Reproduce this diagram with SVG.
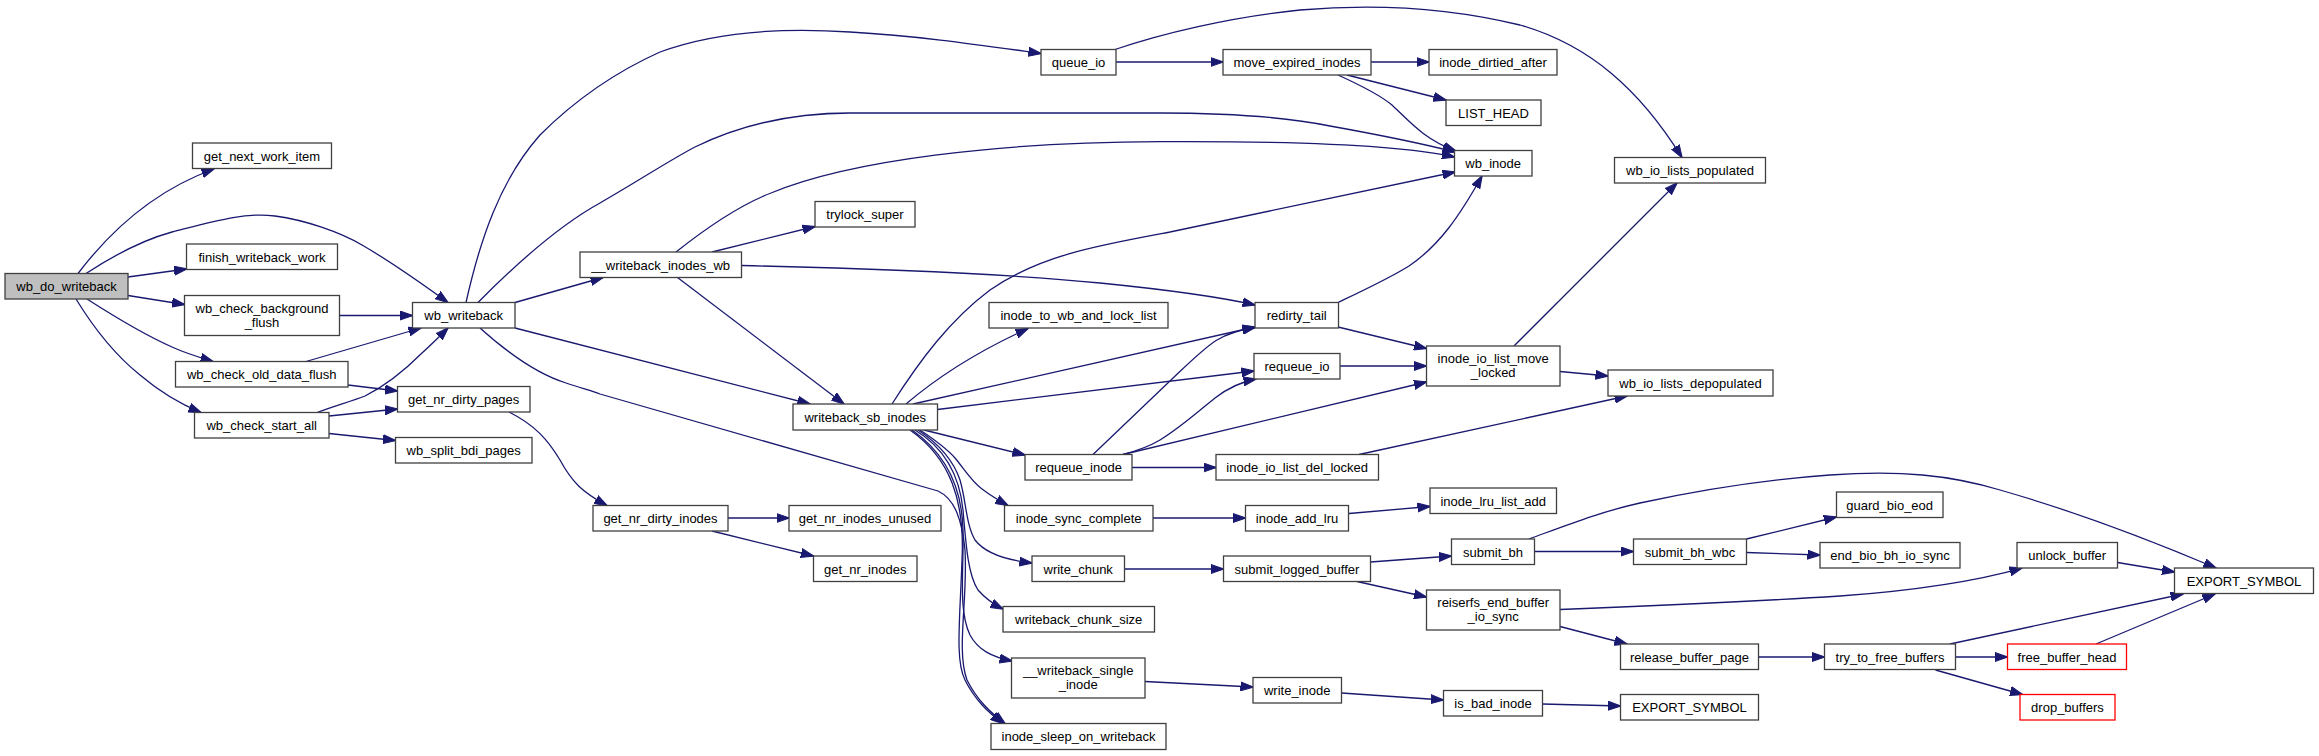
<svg xmlns="http://www.w3.org/2000/svg" width="2319" height="756" viewBox="0 0 2319 756">
<style>
.node rect{fill:#ffffff;stroke:#404040;stroke-width:1.3}
.root rect{fill:#bfbfbf}
.trunc rect{stroke:#ff0000}
text{font-family:"Liberation Sans",Arial,Helvetica,sans-serif;font-size:13px;text-anchor:middle;fill:#000000}
.edge path{fill:none;stroke:#191970;stroke-width:1.3;marker-end:url(#arr)}
</style>
<defs>
<marker id="arr" markerUnits="userSpaceOnUse" markerWidth="13" markerHeight="10" viewBox="0 0 13 10" refX="12.5" refY="5" orient="auto">
<path d="M0,0.5 L13,5 L0,9.5 z" fill="#191970" stroke="#191970" stroke-width="1"/>
</marker>
</defs>
<rect x="0" y="0" width="2319" height="756" fill="#ffffff"/>
<g id="edges" class="edge">
<path d="M78,273.5 C105,238 150,192 214,169"/>
<path d="M86,273.5 C125,248 150,238 172,232 C215,221 245,212 275,216 C305,220 340,232 362,245 C395,264 425,286 448,302.5"/>
<path d="M128,277 L186.5,269"/>
<path d="M128,295.5 L184.5,304.5"/>
<path d="M87,299 C115,317 145,335 172,347 C185,353 198,357 213,361.5"/>
<path d="M76,299 C95,330 115,355 140,375 C160,392 178,403 201,412.5"/>
<path d="M339.5,315.5 L412.5,315.5"/>
<path d="M306,361.5 L421,328"/>
<path d="M348,385 L397.5,391"/>
<path d="M317,412.5 C335,406 352,401 365,396 C385,386 405,370 422,353 C432,344 440,336 448,328"/>
<path d="M329,416 L397.5,409"/>
<path d="M329,433.5 L395.5,440.5"/>
<path d="M509,412 C535,425 548,440 560,460 C572,482 582,492 607,505.5"/>
<path d="M728,518 L789,518"/>
<path d="M712,531 L813.5,556"/>
<path d="M466,302.5 C480,240 500,180 540,135 C580,95 620,70 660,52 C720,30 790,28 850,32 C920,36 980,45 1041,53.5"/>
<path d="M478,302.5 C520,260 560,225 600,203 C640,180 670,160 695,147 C740,125 790,113 850,113 L1160,113 C1230,113 1290,118 1330,126 C1380,135 1420,143 1455,152"/>
<path d="M515,302.5 L603,277.5"/>
<path d="M515,328 L810,404"/>
<path d="M480,328 C510,355 540,375 566,383 C580,388 590,390 600,394 L938,491 C955,499 962,520 965,550 C968,600 956,650 967,680 C977,700 990,712 1005,723.5"/>
<path d="M712,252 L815,226.5"/>
<path d="M676,252 C710,225 740,205 771,193 C850,160 1000,142 1160,141.7 C1300,141 1400,145 1454.5,157"/>
<path d="M741.5,265.5 C850,268 1000,273 1100,283 C1170,290 1220,297 1255,305"/>
<path d="M677.5,277.5 L844,404"/>
<path d="M1116,62 L1223,62"/>
<path d="M1115,49.5 C1160,34 1230,17 1300,10 C1380,3 1450,8 1520,25 C1590,45 1640,90 1682,157.5"/>
<path d="M1371,62 L1429,62"/>
<path d="M1347,75 L1446,100"/>
<path d="M1338,75 C1360,85 1380,95 1392,105 C1410,122 1425,140 1456,151"/>
<path d="M892,404 C920,360 950,320 990,290 C1040,255 1100,245 1170,232 L1455,172"/>
<path d="M906,404 C940,375 985,348 1028,328.5"/>
<path d="M913,404 L1255,327"/>
<path d="M937.5,409.5 L1254,371"/>
<path d="M924,430 L1025,455"/>
<path d="M920,430 C935,440 948,450 955,458 C965,470 972,482 982,489 C990,495 998,500 1008,505.5"/>
<path d="M918,430 C945,448 955,465 960,480 C966,500 966,525 975,540 C985,553 1005,560 1032,563"/>
<path d="M915,430 C948,450 960,480 963,510 C966,545 968,575 978,590 C985,598 993,604 1003,609"/>
<path d="M912,430 C948,455 962,490 963,530 C964,570 958,610 970,635 C978,650 992,657 1012,661"/>
<path d="M910,430 C950,458 965,500 962,560 C960,620 955,660 965,680 C975,700 988,712 1003,723.5"/>
<path d="M1093,454.5 L1171,380 C1190,362 1205,347 1217,340 C1228,333 1240,330 1255,327.5"/>
<path d="M1123,454.5 C1140,450 1150,446 1160,440 C1180,428 1200,410 1215,398 C1228,388 1240,382 1256,379"/>
<path d="M1123,454.5 L1426.5,382"/>
<path d="M1132,467.5 L1216,467.5"/>
<path d="M1338,302.5 C1360,292 1390,278 1409,266 C1440,245 1460,215 1482,176"/>
<path d="M1338,327 L1426.5,348.5"/>
<path d="M1340,366 L1426.5,366"/>
<path d="M1514,346 L1677,183"/>
<path d="M1560,371.5 L1608,376"/>
<path d="M1359,454.5 L1627,396"/>
<path d="M1153,518 L1245.5,518"/>
<path d="M1349,513.5 L1430,506.5"/>
<path d="M1124.5,569 L1223.5,569"/>
<path d="M1370.5,562 L1451.5,556"/>
<path d="M1357,581.5 L1426.5,597"/>
<path d="M1534.5,551.5 L1633.5,551.5"/>
<path d="M1529,539 C1570,524 1600,512 1640,503 C1700,490 1760,480 1830,475 C1900,470 1950,475 2000,490 C2070,510 2150,540 2216,568"/>
<path d="M1746.5,539 L1836.5,517"/>
<path d="M1746.5,552.5 L1820,555"/>
<path d="M1560,609.5 C1650,606 1760,601 1840,596 C1920,590 1980,580 2022,568"/>
<path d="M1560,626.5 L1627,644"/>
<path d="M2117.5,562.5 L2174.5,572"/>
<path d="M1758.5,657 L1824.5,657"/>
<path d="M1950,644 L2183,594"/>
<path d="M1955.5,657 L2007.5,657"/>
<path d="M1935.5,670 L2022.5,694.5"/>
<path d="M2096,644 L2215,594"/>
<path d="M1145,681.5 L1253,687"/>
<path d="M1341.5,693 L1443.5,700"/>
<path d="M1542.5,704 L1620.5,706"/>
</g>
<g id="wb_do_writeback" class="node root"><rect x="5" y="273.5" width="123" height="25.5"/><text x="66.5" y="291">wb_do_writeback</text></g>
<g id="get_next_work_item" class="node"><rect x="192.5" y="143" width="139" height="25.5"/><text x="262" y="160.5">get_next_work_item</text></g>
<g id="finish_writeback_work" class="node"><rect x="186.5" y="244" width="151" height="25.5"/><text x="262" y="261.5">finish_writeback_work</text></g>
<g id="wb_check_background_flush" class="node"><rect x="184.5" y="295.5" width="155" height="40"/><text x="262" y="312.5">wb_check_background</text><text x="262" y="326.5">_flush</text></g>
<g id="wb_check_old_data_flush" class="node"><rect x="175.5" y="361.5" width="172.5" height="25.5"/><text x="261.7" y="379">wb_check_old_data_flush</text></g>
<g id="wb_check_start_all" class="node"><rect x="194.5" y="412.5" width="134.5" height="25.5"/><text x="261.7" y="430">wb_check_start_all</text></g>
<g id="wb_writeback" class="node"><rect x="412.5" y="302.5" width="102.5" height="25.5"/><text x="463.7" y="320">wb_writeback</text></g>
<g id="get_nr_dirty_pages" class="node"><rect x="397.5" y="386.5" width="132.5" height="25.5"/><text x="463.7" y="404">get_nr_dirty_pages</text></g>
<g id="wb_split_bdi_pages" class="node"><rect x="395.5" y="437.5" width="136.5" height="25.5"/><text x="463.7" y="455">wb_split_bdi_pages</text></g>
<g id="get_nr_dirty_inodes" class="node"><rect x="593" y="505.5" width="135" height="25.5"/><text x="660.5" y="523">get_nr_dirty_inodes</text></g>
<g id="__writeback_inodes_wb" class="node"><rect x="580" y="252" width="161.5" height="25.5"/><text x="660.7" y="269.5">__writeback_inodes_wb</text></g>
<g id="trylock_super" class="node"><rect x="815" y="201.5" width="100" height="25.5"/><text x="865" y="219">trylock_super</text></g>
<g id="writeback_sb_inodes" class="node"><rect x="793" y="404" width="144.5" height="26"/><text x="865.2" y="421.7">writeback_sb_inodes</text></g>
<g id="get_nr_inodes_unused" class="node"><rect x="789" y="505.5" width="152" height="25.5"/><text x="865" y="523">get_nr_inodes_unused</text></g>
<g id="get_nr_inodes" class="node"><rect x="813.5" y="556" width="103.5" height="25.5"/><text x="865.2" y="573.5">get_nr_inodes</text></g>
<g id="queue_io" class="node"><rect x="1041" y="49.5" width="75" height="25.5"/><text x="1078.5" y="67">queue_io</text></g>
<g id="inode_to_wb_and_lock_list" class="node"><rect x="989" y="302.5" width="179" height="25.5"/><text x="1078.5" y="320">inode_to_wb_and_lock_list</text></g>
<g id="requeue_inode" class="node"><rect x="1025" y="454.5" width="107" height="25.5"/><text x="1078.5" y="472">requeue_inode</text></g>
<g id="inode_sync_complete" class="node"><rect x="1004.5" y="505.5" width="148.5" height="25.5"/><text x="1078.7" y="523">inode_sync_complete</text></g>
<g id="write_chunk" class="node"><rect x="1032" y="556" width="92.5" height="25.5"/><text x="1078.2" y="573.5">write_chunk</text></g>
<g id="writeback_chunk_size" class="node"><rect x="1003" y="606.5" width="151.5" height="25.5"/><text x="1078.7" y="624">writeback_chunk_size</text></g>
<g id="__writeback_single_inode" class="node"><rect x="1011.5" y="658" width="133.5" height="40"/><text x="1078.2" y="675">__writeback_single</text><text x="1078.2" y="689">_inode</text></g>
<g id="inode_sleep_on_writeback" class="node"><rect x="991" y="723.5" width="175" height="26"/><text x="1078.5" y="741.2">inode_sleep_on_writeback</text></g>
<g id="move_expired_inodes" class="node"><rect x="1223" y="49.5" width="148" height="25.5"/><text x="1297" y="67">move_expired_inodes</text></g>
<g id="redirty_tail" class="node"><rect x="1255" y="302.5" width="83.5" height="25.5"/><text x="1296.7" y="320">redirty_tail</text></g>
<g id="requeue_io" class="node"><rect x="1254" y="353.5" width="86" height="25.5"/><text x="1297" y="371">requeue_io</text></g>
<g id="inode_io_list_del_locked" class="node"><rect x="1216" y="454.5" width="162.5" height="25.5"/><text x="1297.2" y="472">inode_io_list_del_locked</text></g>
<g id="inode_add_lru" class="node"><rect x="1245.5" y="505.5" width="103" height="25.5"/><text x="1297" y="523">inode_add_lru</text></g>
<g id="submit_logged_buffer" class="node"><rect x="1223.5" y="556" width="147" height="25.5"/><text x="1297" y="573.5">submit_logged_buffer</text></g>
<g id="write_inode" class="node"><rect x="1253" y="677.5" width="88.5" height="25.5"/><text x="1297.2" y="695">write_inode</text></g>
<g id="inode_dirtied_after" class="node"><rect x="1429" y="49.5" width="128" height="25.5"/><text x="1493" y="67">inode_dirtied_after</text></g>
<g id="LIST_HEAD" class="node"><rect x="1446" y="100" width="95" height="25.5"/><text x="1493.5" y="117.5">LIST_HEAD</text></g>
<g id="wb_inode" class="node"><rect x="1454.5" y="150.5" width="77.5" height="25.5"/><text x="1493.2" y="168">wb_inode</text></g>
<g id="inode_io_list_move_locked" class="node"><rect x="1426.5" y="346" width="133.5" height="40"/><text x="1493.2" y="363">inode_io_list_move</text><text x="1493.2" y="377">_locked</text></g>
<g id="inode_lru_list_add" class="node"><rect x="1430" y="488" width="126.5" height="25.5"/><text x="1493.2" y="505.5">inode_lru_list_add</text></g>
<g id="submit_bh" class="node"><rect x="1451.5" y="539" width="83" height="25.5"/><text x="1493" y="556.5">submit_bh</text></g>
<g id="reiserfs_end_buffer_io_sync" class="node"><rect x="1426.5" y="590" width="133.5" height="40"/><text x="1493.2" y="607">reiserfs_end_buffer</text><text x="1493.2" y="621">_io_sync</text></g>
<g id="is_bad_inode" class="node"><rect x="1443.5" y="690.5" width="99" height="25.5"/><text x="1493" y="708">is_bad_inode</text></g>
<g id="wb_io_lists_populated" class="node"><rect x="1614.5" y="157.5" width="151" height="25.5"/><text x="1690" y="175">wb_io_lists_populated</text></g>
<g id="wb_io_lists_depopulated" class="node"><rect x="1608" y="370" width="165" height="26"/><text x="1690.5" y="387.7">wb_io_lists_depopulated</text></g>
<g id="submit_bh_wbc" class="node"><rect x="1633.5" y="539" width="113" height="25.5"/><text x="1690" y="556.5">submit_bh_wbc</text></g>
<g id="release_buffer_page" class="node"><rect x="1620.5" y="644" width="138" height="25.5"/><text x="1689.5" y="661.5">release_buffer_page</text></g>
<g id="EXPORT_SYMBOL_1" class="node"><rect x="1620.5" y="694.5" width="138" height="25.5"/><text x="1689.5" y="712">EXPORT_SYMBOL</text></g>
<g id="guard_bio_eod" class="node"><rect x="1836.5" y="492" width="106.5" height="25.5"/><text x="1889.7" y="509.5">guard_bio_eod</text></g>
<g id="end_bio_bh_io_sync" class="node"><rect x="1820" y="542.5" width="140" height="25.5"/><text x="1890" y="560">end_bio_bh_io_sync</text></g>
<g id="try_to_free_buffers" class="node"><rect x="1824.5" y="644" width="131" height="25.5"/><text x="1890" y="661.5">try_to_free_buffers</text></g>
<g id="unlock_buffer" class="node"><rect x="2017" y="542.5" width="100.5" height="25.5"/><text x="2067.2" y="560">unlock_buffer</text></g>
<g id="free_buffer_head" class="node trunc"><rect x="2007.5" y="644" width="119" height="25.5"/><text x="2067" y="661.5">free_buffer_head</text></g>
<g id="drop_buffers" class="node trunc"><rect x="2020" y="694.5" width="95" height="25.5"/><text x="2067.5" y="712">drop_buffers</text></g>
<g id="EXPORT_SYMBOL_2" class="node"><rect x="2174.5" y="568" width="139" height="25.5"/><text x="2244" y="585.5">EXPORT_SYMBOL</text></g>
</svg>
